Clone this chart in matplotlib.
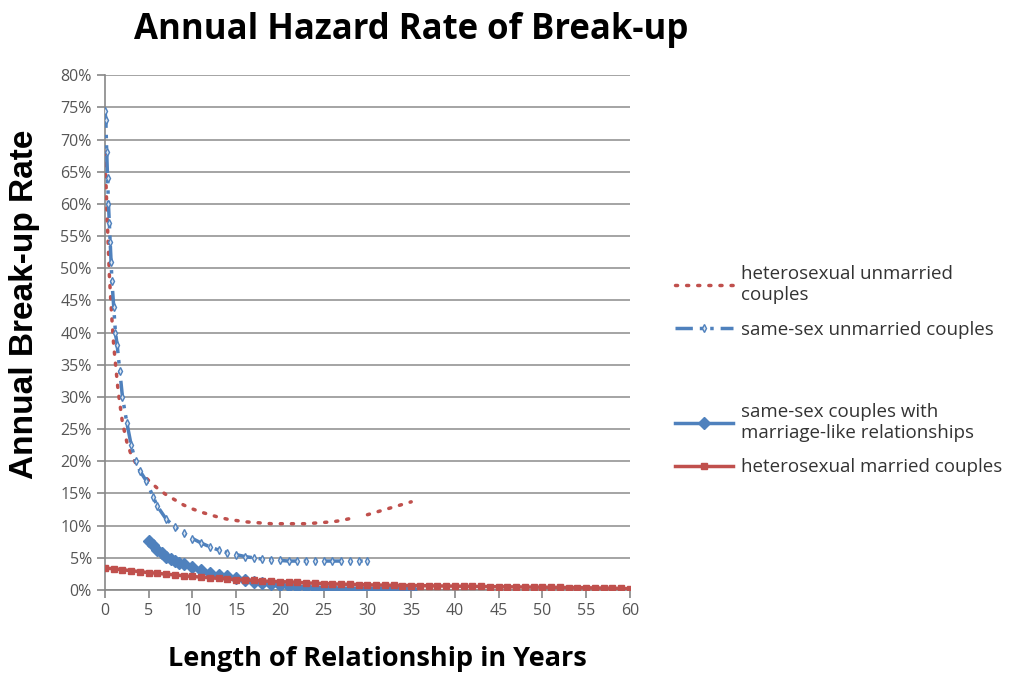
import numpy as np
import matplotlib
matplotlib.use('Agg')
from matplotlib import pyplot as plt
from matplotlib.ticker import FuncFormatter, MultipleLocator

plt.rcParams['font.family'] = ['Open Sans', 'DejaVu Sans']

# heterosexual unmarried couples (dotted red)
hu_years = [0, 0.25, 0.5, 0.75, 1, 1.5, 2, 2.5, 3, 4, 5, 6, 7, 8, 9, 10, 11, 12, 13, 14, 15,
            16, 17, 18, 19, 20, 21, 22, 23, 24, 25, 26, 27, 28, 29, 30, 31, 32, 33, 34, 35]
hu_rate = [68, 58, 49, 43, 38, 31, 26, 23, 21, 18.5, 17, 15.8, 14.8, 14, 13.2, 12.6, 12.1, 11.7,
           11.3, 11, 10.8, 10.6, 10.5, 10.4, 10.3, 10.3, 10.3, 10.3, 10.3, 10.4, 10.5, 10.6,
           10.8, 11.1, np.nan, 11.7, 12.1, 12.5, 12.9, 13.3, 13.7]

# same-sex unmarried couples (blue dash-dot)
su_years = [0, 0.1, 0.2, 0.3, 0.4, 0.5, 0.6, 0.7, 0.8, 1, 1.2, 1.4, 1.7, 2, 2.5, 3, 3.5, 4, 4.7,
            5.5, 6, 7, 8, 9, 10, 11, 12, 13, 14, 15, 16, 17, 18, 19, 20, 21, 22, 23, 24, 25,
            26, 27, 28, 29, 30]
su_rate = [74.5, 73, 68, 64, 60, 57, 54, 51, 48, 44, 40, 38, 34, 30, 26, 22.5, 20, 18.5, 17,
           14.5, 13, 11, 9.8, 8.8, 8, 7.3, 6.7, 6.2, 5.8, 5.5, 5.2, 5, 4.8, 4.7, 4.6, 4.5,
           4.5, 4.5, 4.5, 4.5, 4.5, 4.5, 4.5, 4.5, 4.5]

# same-sex couples with marriage-like relationships (blue diamonds)
sm_years = [5, 5.5, 6, 6.5, 7, 7.5, 8, 8.5, 9, 10, 11, 12, 13, 14, 15, 16, 17, 18, 19, 20,
            21, 22, 23, 24, 25, 26, 27, 28, 29, 30, 31, 32, 33, 34, 35]
sm_rate = [7.6, 7, 6.2, 5.7, 5.2, 4.8, 4.5, 4.2, 4, 3.5, 3.1, 2.7, 2.4, 2.1, 1.8, 1.5, 1.3,
           1.1, 0.9, 0.8, 0.6, 0.5, 0.4, 0.35, 0.3, 0.25, 0.22, 0.2, 0.18, 0.16, 0.15, 0.13,
           0.12, 0.11, 0.1]

# heterosexual married couples (red solid)
hm_years = list(range(0, 61))
hm_rate = [3.4, 3.3, 3.15, 3.0, 2.85, 2.7, 2.6, 2.45, 2.35, 2.2, 2.1, 2.0, 1.9, 1.8, 1.7, 1.6,
           1.55, 1.5, 1.4, 1.35, 1.3, 1.25, 1.2, 1.1, 1.05, 1.0, 0.95, 0.9, 0.88, 0.85, 0.8,
           0.78, 0.75, 0.73, 0.7, 0.7, 0.68, 0.65, 0.63, 0.62, 0.6, 0.58, 0.56, 0.55, 0.53,
           0.5, 0.5, 0.48, 0.46, 0.45, 0.44, 0.42, 0.4, 0.38, 0.37, 0.35, 0.32, 0.3, 0.27,
           0.24, 0.2]

red = '#C0504D'
blue = '#4F81BD'

fig = plt.figure(figsize=(10.22, 6.77), dpi=100)
ax = fig.add_axes([0.1027, 0.1285, 0.5137, 0.7605])

l1, = ax.plot(hu_years, hu_rate, color=red, lw=2.5, linestyle=(0, (0.6, 2.6)),
              dash_capstyle='round', label='heterosexual unmarried\ncouples', zorder=3)
l2, = ax.plot(su_years, su_rate, color=blue, lw=2.5, linestyle=(0, (5, 2, 1, 2, 1, 2)),
              marker='d', markersize=4, markerfacecolor='#dce6f2', markeredgecolor=blue,
              label='same-sex unmarried couples', zorder=3)
l3, = ax.plot(sm_years, sm_rate, color=blue, lw=2.5, marker='D', markersize=6,
              label='same-sex couples with\nmarriage-like relationships', zorder=4)
l4, = ax.plot(hm_years, hm_rate, color=red, lw=2.5, marker='s', markersize=4,
              label='heterosexual married couples', zorder=5)

ax.set_xlim(0, 60)
ax.set_ylim(0, 80)
ax.xaxis.set_major_locator(MultipleLocator(5))
ax.yaxis.set_major_locator(MultipleLocator(5))
ax.yaxis.set_major_formatter(FuncFormatter(lambda v, p: '%d%%' % v))
ax.grid(axis='y', color='#959595', lw=1.2)
ax.set_axisbelow(True)
for s in ['top', 'right']:
    ax.spines[s].set_visible(False)
for s in ['left', 'bottom']:
    ax.spines[s].set_color('#888888')
    ax.spines[s].set_linewidth(1.2)
ax.tick_params(axis='both', colors='#888888', length=6, width=1.2, labelsize=11.5,
               labelcolor='#555555')

ax.set_xlabel('Length of Relationship in Years', fontsize=19.5, fontweight='bold')
ax.xaxis.set_label_coords(0.518, -0.108)
ax.set_ylabel('Annual Break-up Rate', fontsize=24, fontweight='bold',
              family=['Liberation Sans', 'DejaVu Sans'])
ax.yaxis.set_label_coords(-0.124, 0.555)
fig.text(0.402, 0.955, 'Annual Hazard Rate of Break-up', fontsize=25, fontweight='bold',
         ha='center', va='center')

leg_kw = dict(loc='upper left', frameon=False, fontsize=13.5, handlelength=3.1,
              handletextpad=0.45, labelspacing=0.9, borderpad=0)
leg1 = fig.legend([l1, l2], [l1.get_label(), l2.get_label()],
                  bbox_to_anchor=(0.651, 0.622), labelcolor='#333333', **leg_kw)
leg2 = fig.legend([l3, l4], [l3.get_label(), l4.get_label()],
                  bbox_to_anchor=(0.651, 0.419), labelcolor='#333333', **leg_kw)

fig.savefig('out.png', dpi=100)
